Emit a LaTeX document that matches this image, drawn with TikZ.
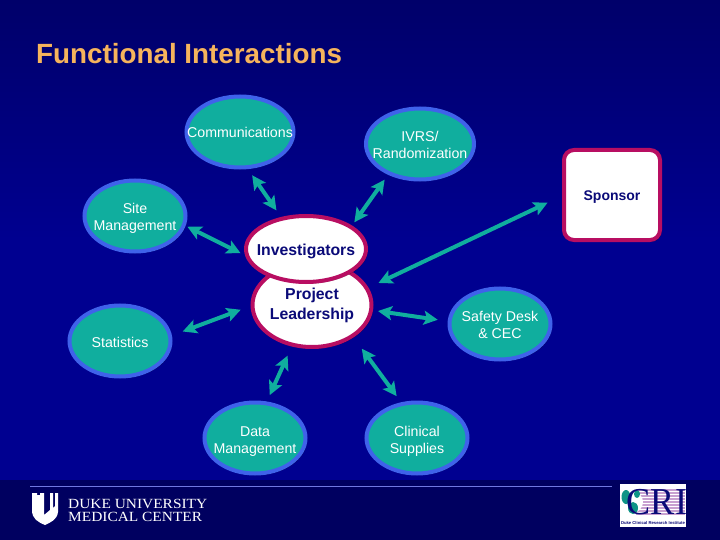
\documentclass[tikz,border=0pt]{standalone}
\usepackage{fontspec}
\setmainfont{Liberation Sans}
\newfontfamily\dukefont{Liberation Serif}
\usetikzlibrary{arrows.meta,shapes.geometric,shadows,calc}
\definecolor{teal1}{HTML}{10AE9E}
\definecolor{ringblue}{HTML}{3F62EA}
\definecolor{ringred}{HTML}{B80E62}
\definecolor{navytxt}{HTML}{0A0A78}
\definecolor{titleor}{HTML}{F6B45C}
\definecolor{bgtop}{HTML}{00006A}
\definecolor{bgmid}{HTML}{000090}
\definecolor{bandc}{HTML}{000060}
\definecolor{rulec}{HTML}{7078E0}
\definecolor{stripe}{HTML}{C8A0D0}
\newcommand{\lowr}[1]{\rule{0pt}{#1pt}}
\tikzset{
  x=1pt,y=-1pt,
  softshadow/.style={general shadow={shadow xshift=1.6pt,shadow yshift=-1.6pt,fill=black,opacity=.45}},
  teamnode/.style={ellipse,draw=ringblue,fill=teal1,line width=4pt,minimum width=101pt,minimum height=71pt,inner xsep=-40pt,inner ysep=-12pt,text=white,font=\fontsize{14.2}{17}\selectfont,align=center,softshadow},
  leadnode/.style={ellipse,draw=ringred,fill=white,line width=4pt,inner xsep=-40pt,inner ysep=-12pt,text=navytxt,font=\bfseries\fontsize{15.8}{20}\selectfont,align=center,softshadow},
  link/.style={{Stealth[length=14pt,width=14pt,inset=3pt]}-{Stealth[length=14pt,width=14pt,inset=3pt]},draw=teal1,line width=4pt}
}
\begin{document}
\begin{tikzpicture}
\useasboundingbox (0,0) rectangle (720,540);
\shade[top color=bgtop,bottom color=bgmid,middle color=bgmid] (0,0) rectangle (720,480);
\fill[bandc] (0,480) rectangle (720,540);

\node[anchor=west,text=titleor,font=\bfseries\fontsize{27.8}{30}\selectfont,inner sep=0pt] (title) at (36,54) {Functional Interactions};

\node[teamnode,minimum width=107pt] (comm) at (240,132) {Communications};
\node[teamnode,minimum width=108pt] (ivrs) at (420,144) {\lowr{12}IVRS/\\Randomization};
\node[teamnode] (site) at (135,216) {\lowr{14}Site\\Management};
\node[teamnode] (stat) at (120,341) {\lowr{12.5}Statistics};
\node[teamnode] (data) at (255,438) {\lowr{16}Data\\Management};
\node[teamnode] (clin) at (417,438) {\lowr{16}Clinical\\Supplies};
\node[teamnode] (safe) at (500,324) {\lowr{12}Safety Desk\\\& CEC};
\node[leadnode,minimum width=119pt,minimum height=84pt] (lead) at (312,305) {Project\\Leadership};
\node[leadnode,minimum width=120pt,minimum height=66pt] (inv) at (306,249) {\lowr{15.5}Investigators};
\node[rectangle,rounded corners=10pt,draw=ringred,fill=white,line width=4pt,minimum width=96pt,minimum height=90pt,inner sep=0pt,text=navytxt,font=\bfseries\fontsize{14}{16}\selectfont,softshadow] (spon) at (612,195) {\lowr{14}Sponsor};

\draw[link,shorten <=7.5pt,shorten >=8pt] (comm.-78) -- (inv.128);
\draw[link,shorten <=6pt,shorten >=4pt] (ivrs.-136) -- (inv.27.5);
\draw[link,shorten <=2pt,shorten >=5pt] (site.-11.3) -- (inv.186);
\draw[link,shorten <=16pt,shorten >=11pt] (spon.181.7) -- (lead.17.2);
\draw[link,shorten <=11.5pt,shorten >=10.5pt] (stat.6.6) -- (lead.181.3);
\draw[link,shorten <=10pt,shorten >=5pt] (safe.177) -- (lead.-5.9);
\draw[link,shorten <=7pt,shorten >=10pt] (data.72.3) -- (lead.-116);
\draw[link,shorten <=7.5pt,shorten >=14pt] (clin.114.8) -- (lead.-38);

% footer
\draw[rulec,line width=.8pt] (30,486.5) -- (612,486.5);
\fill[white] (32,493) -- (37,493) -- (37,495) -- (40,495) -- (40,493) -- (44,493) -- (44,515) -- (50,510) -- (50,493) -- (53,493) -- (53,508) -- (55,506) -- (55,493) -- (58,493) -- (58,512) .. controls (57,520) and (51,522) .. (45,525) .. controls (38,522) and (32,519) .. (32,510) -- cycle;
\node[anchor=west,inner sep=0pt,text=white,align=left,xscale=1.1,font=\dukefont\fontsize{14}{13}\selectfont] (duke) at (68,510.5) {DUKE UNIVERSITY\\MEDICAL CENTER};

\fill[white] (620,484) rectangle (686,527);
\foreach \yy in {490,493,...,514}{\draw[stripe,line width=1.2pt] (636,\yy) -- (685,\yy);}
\fill[white] (632,502) circle (11pt);
\fill[teal1!85!black] (626,497) ellipse (4.5pt and 7pt);
\fill[teal1!85!black] (633,508) ellipse (5pt and 6pt);
\fill[teal1!85!black] (637,494) ellipse (3pt and 4pt);
\node[inner sep=0pt,text=navytxt,font=\dukefont\fontsize{38}{38}\selectfont,xscale=.95] (cri) at (657,502) {CRI};
\node[inner sep=0pt,text=navytxt,font=\bfseries\fontsize{4.2}{5}\selectfont] (crisub) at (653,523) {Duke Clinical Research Institute};
\end{tikzpicture}
\end{document}
